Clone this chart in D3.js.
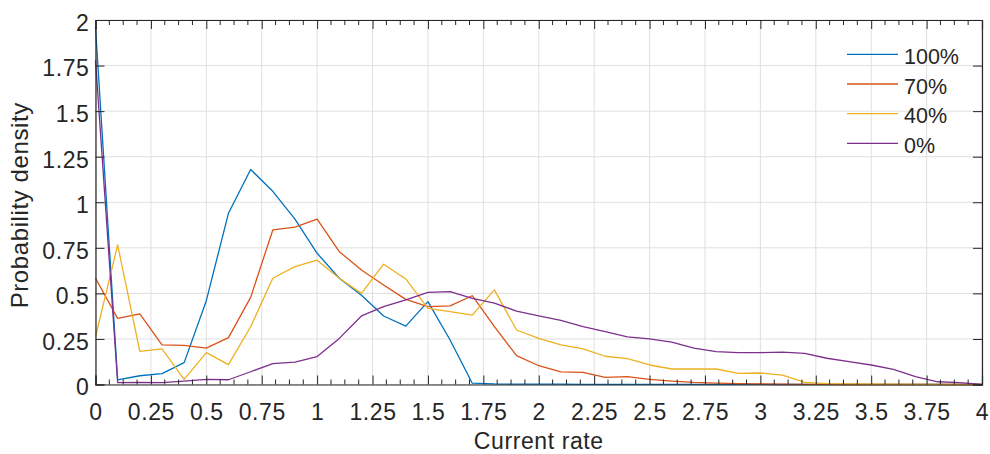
<!DOCTYPE html>
<html>
<head>
<meta charset="utf-8">
<script src="https://cdn.jsdelivr.net/npm/d3@7"></script>
<style>
  html, body { margin: 0; padding: 0; background: #fff; }
  svg { display: block; }
  text { font-family: "Liberation Sans", Arial, sans-serif; fill: #262626; }
</style>
</head>
<body>
<div id="chart"></div>
<script>
const width = 990;
const height = 454;
const margin = { top: 20, right: 8, bottom: 69.5, left: 95.5 };

// abscissa of every sample
const xValues = d3.range(0, 41).map(i => i / 10);

const seriesNames = ["100%", "70%", "40%", "0%"];
const seriesColors = ["#0072BD", "#D95319", "#EDB120", "#7E2F8E"];

const s100 = [1.96, 0.025, 0.048, 0.06, 0.12, 0.46, 0.94, 1.18, 1.06, 0.907, 0.72,
  0.583, 0.49, 0.376, 0.32, 0.455, 0.244, 0.007, 0.003, 0.002, 0.002,
  0.002, 0.001, 0.001, 0.001, 0.001, 0.001, 0.001, 0.001, 0.001, 0.001,
  0, 0, 0, 0, 0, 0, 0, 0, 0, 0];
const s70 = [0.583, 0.363, 0.387, 0.217, 0.215, 0.2, 0.257, 0.478, 0.848, 0.863, 0.908,
  0.729, 0.628, 0.546, 0.467, 0.427, 0.431, 0.487, 0.317, 0.158, 0.103,
  0.069, 0.067, 0.039, 0.043, 0.028, 0.019, 0.012, 0.008, 0.005, 0.003,
  0.002, 0.001, 0.001, 0, 0, 0, 0, 0, 0, 0];
const s40 = [0.262, 0.766, 0.182, 0.195, 0.028, 0.175, 0.109, 0.317, 0.583, 0.647, 0.682,
  0.583, 0.5, 0.66, 0.579, 0.418, 0.4, 0.381, 0.519, 0.299, 0.253,
  0.217, 0.195, 0.155, 0.142, 0.107, 0.085, 0.085, 0.085, 0.061, 0.063,
  0.052, 0.012, 0.005, 0.003, 0.002, 0.002, 0.001, 0.001, 0, 0];
const s0 = [1.78, 0.01, 0.012, 0.01, 0.019, 0.028, 0.026, 0.07, 0.114, 0.123, 0.153,
  0.253, 0.376, 0.427, 0.464, 0.506, 0.51, 0.473, 0.446, 0.403, 0.376,
  0.352, 0.317, 0.29, 0.261, 0.25, 0.233, 0.199, 0.18, 0.175, 0.175,
  0.178, 0.171, 0.144, 0.125, 0.107, 0.083, 0.043, 0.015, 0.01, 0];

const seriesValues = [s100, s70, s40, s0];

const xTicks = d3.range(0, 17).map(i => i * 0.25);
const xMinorTicks = d3.range(0, 65).map(i => i * 0.0625);
const yTicks = d3.range(0, 9).map(i => i * 0.25);

const svg = d3.select("#chart").append("svg")
  .attr("width", width)
  .attr("height", height);

const x = d3.scaleLinear().domain([0, 4]).range([margin.left, width - margin.right]);
const y = d3.scaleLinear().domain([0, 2]).range([height - margin.bottom, margin.top]);

const fmt = v => String(+v.toFixed(2));

// grid
svg.append("g").selectAll("line").data(xTicks).join("line")
  .attr("x1", d => x(d)).attr("x2", d => x(d))
  .attr("y1", y(0)).attr("y2", y(2))
  .attr("stroke", "#dfdfdf").attr("stroke-width", 1);
svg.append("g").selectAll("line").data(yTicks).join("line")
  .attr("x1", x(0)).attr("x2", x(4))
  .attr("y1", d => y(d)).attr("y2", d => y(d))
  .attr("stroke", "#dfdfdf").attr("stroke-width", 1);

// lines
const line = d3.line().x((d, i) => x(xValues[i])).y(d => y(d));
seriesValues.forEach((vals, k) => {
  svg.append("path")
    .datum(vals)
    .attr("fill", "none")
    .attr("stroke", seriesColors[k])
    .attr("stroke-width", 1.3)
    .attr("stroke-linejoin", "round")
    .attr("d", line);
});

// axes (MATLAB style: ticks inside, box on)
const axisColor = "#262626";
const gBottom = svg.append("g").attr("transform", `translate(0,${y(0)})`)
  .call(d3.axisBottom(x).tickValues(xTicks).tickFormat(fmt).tickSize(-9).tickPadding(19));
const gTop = svg.append("g").attr("transform", `translate(0,${y(2)})`)
  .call(d3.axisTop(x).tickValues(xTicks).tickFormat("").tickSize(-9));
const gLeft = svg.append("g").attr("transform", `translate(${x(0)},0)`)
  .call(d3.axisLeft(y).tickValues(yTicks).tickFormat(fmt).tickSize(-9).tickPadding(6));
const gRight = svg.append("g").attr("transform", `translate(${x(4)},0)`)
  .call(d3.axisRight(y).tickValues(yTicks).tickFormat("").tickSize(-9));

gLeft.selectAll("text").attr("dy", "0.45em");

// minor ticks on x
const minors = xMinorTicks.filter(v => Math.abs(v / 0.25 - Math.round(v / 0.25)) > 1e-6);
svg.append("g").selectAll("line").data(minors).join("line")
  .attr("x1", d => x(d)).attr("x2", d => x(d))
  .attr("y1", y(0)).attr("y2", y(0) - 5)
  .attr("stroke", axisColor);
svg.append("g").selectAll("line").data(minors).join("line")
  .attr("x1", d => x(d)).attr("x2", d => x(d))
  .attr("y1", y(2)).attr("y2", y(2) + 5)
  .attr("stroke", axisColor);

[gBottom, gTop, gLeft, gRight].forEach(g => {
  g.select(".domain").attr("stroke", axisColor).attr("stroke-width", 1.2);
  g.selectAll(".tick line").attr("stroke", axisColor);
  g.selectAll("text").attr("font-size", 23).attr("fill", axisColor)
    .attr("letter-spacing", 0.6)
    .attr("font-family", "Liberation Sans, Arial, sans-serif");
});

// axis labels
svg.append("text")
  .attr("x", (x(0) + x(4)) / 2)
  .attr("y", 449)
  .attr("text-anchor", "middle")
  .attr("font-size", 23)
  .attr("letter-spacing", 0.6)
  .text("Current rate");

svg.append("text")
  .attr("transform", `translate(28,${(y(0) + y(2)) / 2 + 3}) rotate(-90)`)
  .attr("text-anchor", "middle")
  .attr("font-size", 24)
  .attr("letter-spacing", 0.6)
  .text("Probability density");

// legend
const legend = svg.append("g");
seriesNames.forEach((name, k) => {
  const ly = 54.3 + k * 29.7;
  legend.append("line")
    .attr("x1", 847).attr("x2", 898)
    .attr("y1", ly).attr("y2", ly)
    .attr("stroke", seriesColors[k]).attr("stroke-width", 1.3);
  legend.append("text")
    .attr("x", 904).attr("y", ly + 9.7)
    .attr("font-size", 21.5)
    .attr("fill", "#000")
    .text(name);
});
</script>
</body>
</html>
